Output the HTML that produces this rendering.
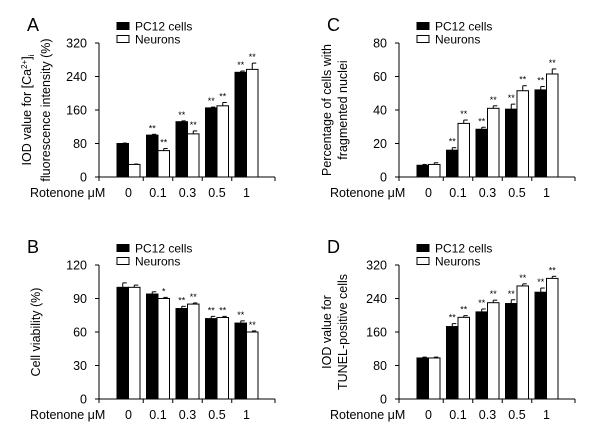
<!DOCTYPE html>
<html><head><meta charset="utf-8"><style>
html,body{margin:0;padding:0;background:#fff;}
svg{display:block;font-family:"Liberation Sans",Arial,sans-serif;}
</style></head><body>
<svg id="fig" width="600" height="434" viewBox="0 0 600 434" xmlns="http://www.w3.org/2000/svg"></svg>
<script>
const categories = ["0","0.1","0.3","0.5","1"];
const aPC12 = [80,100,132,165,250];
const aPC12Err = [1,2,2,2,3];
const aNeur = [30,63,103,170,257];
const aNeurErr = [1,5,7,8,15];
const aPC12Star = ["","**","**","**","**"];
const aNeurStar = ["","**","**","**","**"];
const aTicks = [0,80,160,240,320];

const bPC12 = [100,94,81,72,68];
const bPC12Err = [4,2,2,2,2];
const bNeur = [100,90,85,73,60];
const bNeurErr = [2,1,1,1,1];
const bPC12Star = ["","","**","**","**"];
const bNeurStar = ["","*","**","**","**"];
const bTicks = [0,30,60,90,120];

const cPC12 = [7,16,28.5,40.5,52];
const cPC12Err = [0.5,1.5,1.2,3,2];
const cNeur = [7.5,32,41,51.5,61.5];
const cNeurErr = [1,2,1.5,3,3];
const cPC12Star = ["","**","**","**","**"];
const cNeurStar = ["","**","**","**","**"];
const cTicks = [0,20,40,60,80];

const dPC12 = [98,173,208,228,255];
const dPC12Err = [2,7,7,9,10];
const dNeur = [98,195,230,270,288];
const dNeurErr = [2,4,6,5,5];
const dPC12Star = ["","**","**","**","**"];
const dNeurStar = ["","**","**","**","**"];
const dTicks = [0,80,160,240,320];

const NS="http://www.w3.org/2000/svg";
const svg=document.getElementById('fig');
function mk(tag,attrs,parent,text){const e=document.createElementNS(NS,tag);for(const k in attrs)e.setAttribute(k,attrs[k]);if(text!==undefined)e.textContent=text;(parent||svg).appendChild(e);return e;}

function panel(p){
  const g=mk('g',{});
  
  
  const ox=p.ox, top=p.top, bot=p.bot, ax=ox+99, xend=ox+275;
  const max=p.ticks[p.ticks.length-1];
  const y=v=>bot-(v/max)*(bot-top);
  const gx=i=>ox+117+i*29.5;
  const bw=11.5;
  const t=mk('text',{x:ox+27,y:top-12,'font-size':18},g,p.letter);
  
  
  [[p.top-17,'#000','PC12 cells'],[p.top-4,'#fff','Neurons']].forEach((L,k)=>{
    const r=mk('rect',{x:ox+117,y:L[0]-3.5,width:12,height:7,fill:L[1],stroke:'#000','stroke-width':1},g);
    
    
    const tx=mk('text',{x:ox+135,y:L[0]+4.5,'font-size':12},g,L[2]);
    
    
  });
  const ya=mk('line',{x1:ax,y1:top,x2:ax,y2:bot,stroke:'#000','stroke-width':1},g);
  
  
  const xa=mk('line',{x1:ax,y1:bot,x2:xend,y2:bot,stroke:'#000','stroke-width':1},g);
  
  
  p.ticks.forEach(v=>{
    mk('line',{x1:ax-4,y1:y(v),x2:ax,y2:y(v),stroke:'#000'},g);
    const tl=mk('text',{x:ax-12,y:y(v)+4.5,'font-size':12.5,'text-anchor':'end'},g,String(v));
    
    
  });
  const xt=[ax];
  for(let i=0;i<categories.length;i++) xt.push(gx(i)+bw*2+(29.5-bw*2)/2);
  xt[xt.length-1]=xend;
  xt.forEach(x=>mk('line',{x1:x,y1:bot,x2:x,y2:bot+4,stroke:'#000'},g));
  const yt=mk('text',{transform:`translate(${ox+(p.ytitle.length>1?31:40)},${(top+bot)/2}) rotate(-90)`,'font-size':12.5,'text-anchor':'middle'},g);
  
  
  p.ytitle.forEach((line,k)=>{const ts=mk('tspan',{x:0,dy:k?16:0},yt);ts.innerHTML=line;});
  const rl=mk('text',{x:ox+30,y:bot+20,'font-size':12.5},g,'Rotenone μM');
  
  
  categories.forEach((c,i)=>{
    const cl=mk('text',{x:gx(i)+bw,y:bot+20,'font-size':12.5,'text-anchor':'middle'},g,c);
    
    
  });
  [[p.pc,p.pcE,p.pcS,'#000',0,'pc12'],[p.ne,p.neE,p.neS,'#fff',1,'neurons']].forEach(S=>{
    S[0].forEach((v,i)=>{
      const x=gx(i)+S[4]*bw;
      const ye=y(v+S[1][i]);
      mk('line',{x1:x+bw/2,y1:y(v),x2:x+bw/2,y2:ye,stroke:'#000'},g);
      mk('line',{x1:x+bw/2,y1:ye,x2:x+bw/2+4,y2:ye,stroke:'#000'},g);
      const b=mk('rect',{x:x,y:y(v),width:bw,height:bot-y(v),fill:S[3],stroke:'#000','stroke-width':1},g);
      
      
      if(S[2][i]){
        const st=mk('text',{x:x+bw/2,y:ye-3,'font-size':9,'text-anchor':'middle'},g,S[2][i]);
        
        
      }
    });
  });
}
panel({letter:'A',ox:0,top:43,bot:177,ticks:aTicks,pc:aPC12,pcE:aPC12Err,pcS:aPC12Star,ne:aNeur,neE:aNeurErr,neS:aNeurStar,
  ytitle:['IOD value for [Ca<tspan dy="-4" font-size="8">2+</tspan><tspan dy="4">]</tspan><tspan dy="3" font-size="8">i</tspan><tspan dy="-3"></tspan>','fluorescence intensity (%)']});
panel({letter:'C',ox:300,top:43,bot:177,ticks:cTicks,pc:cPC12,pcE:cPC12Err,pcS:cPC12Star,ne:cNeur,neE:cNeurErr,neS:cNeurStar,
  ytitle:['Percentage of cells with','fragmented nuclei']});
panel({letter:'B',ox:0,top:265,bot:399,ticks:bTicks,pc:bPC12,pcE:bPC12Err,pcS:bPC12Star,ne:bNeur,neE:bNeurErr,neS:bNeurStar,
  ytitle:['Cell viability (%)']});
panel({letter:'D',ox:300,top:265,bot:399,ticks:dTicks,pc:dPC12,pcE:dPC12Err,pcS:dPC12Star,ne:dNeur,neE:dNeurErr,neS:dNeurStar,
  ytitle:['IOD value for','TUNEL-positive cells']});
</script>
</body></html>
